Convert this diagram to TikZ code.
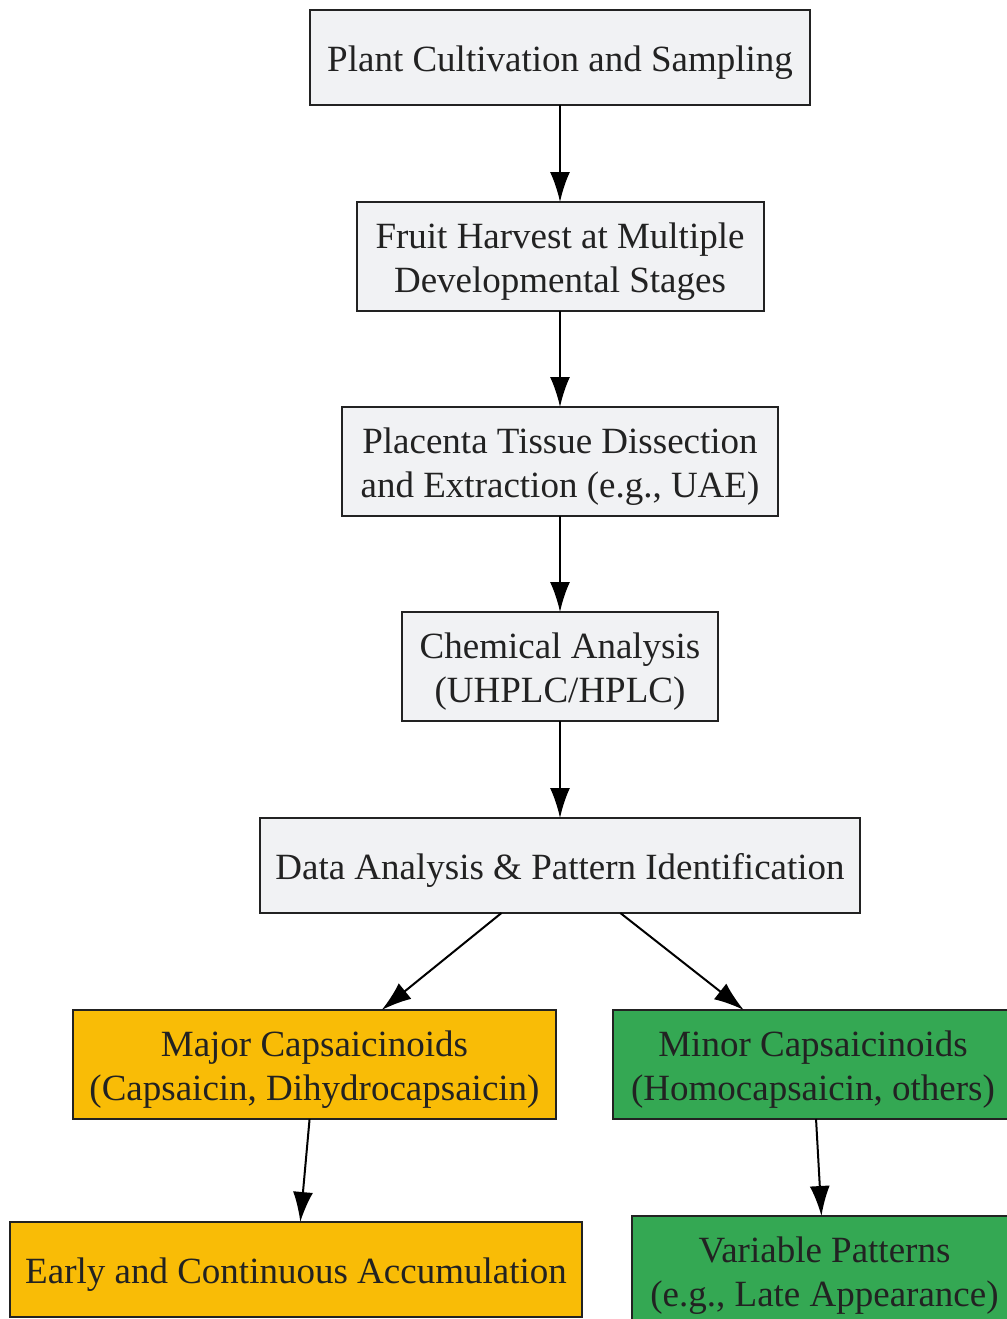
\documentclass[tikz,border=0pt]{standalone}
\usepackage{fontspec}
\setmainfont{Liberation Serif}
\usetikzlibrary{arrows.meta}
\definecolor{boxgray}{HTML}{F1F2F4}
\definecolor{boxgold}{HTML}{F9BC06}
\definecolor{boxgreen}{HTML}{34A853}
\definecolor{inkgray}{HTML}{222222}
% box text, set a little below the middle
\newcommand{\boxtext}[1]{\raisebox{-5.5pt}[\height][\depth]{\begin{tabular}{@{}c@{}}#1\end{tabular}}}

\begin{document}
\begin{tikzpicture}[x=1pt, y=-1pt,
    box/.style={rectangle, draw=inkgray, line width=2pt, text=inkgray, align=center,
        inner sep=0pt, outer sep=0pt, font=\fontsize{37}{44}\selectfont},
    grey/.style={box, fill=boxgray},
    gold/.style={box, fill=boxgold},
    green/.style={box, fill=boxgreen},
    edge/.style={line width=2pt, -{Latex[length=30pt, width=20pt]}}]
    \useasboundingbox (0,0) rectangle (1006,1319);

    % Draw nodes
    \node[grey, minimum width=500, minimum height=95] (plant) at (560, 57.5) {\boxtext{Plant Cultivation and Sampling}};
    \node[grey, minimum width=407, minimum height=109] (fruit) at (560, 256.5) {\boxtext{Fruit Harvest at Multiple\\Developmental Stages}};
    \node[grey, minimum width=436, minimum height=109] (placenta) at (560, 461.5) {\boxtext{Placenta Tissue Dissection\\and Extraction (e.g., UAE)}};
    \node[grey, minimum width=316, minimum height=109] (chem) at (560, 666.5) {\boxtext{Chemical Analysis\\(UHPLC/HPLC)}};
    \node[grey, minimum width=600, minimum height=95] (data) at (560, 865.5) {\boxtext{Data Analysis \& Pattern Identification}};
    \node[gold, minimum width=483, minimum height=109] (major) at (314.5, 1064.5) {\boxtext{Major Capsaicinoids\\(Capsaicin, Dihydrocapsaicin)}};
    \node[green, minimum width=400, minimum height=109] (minor) at (813, 1064.5) {\boxtext{Minor Capsaicinoids\\(Homocapsaicin, others)}};
    \node[gold, minimum width=572, minimum height=95] (early) at (296, 1269.5) {\boxtext{Early and Continuous Accumulation}};
    \node[green, minimum width=385, minimum height=109] (variable) at (824.5, 1270.5) {\boxtext{Variable Patterns\\(e.g., Late Appearance)}};

    % Draw edges
    \draw[edge] (plant) -- (fruit);
    \draw[edge] (fruit) -- (placenta);
    \draw[edge] (placenta) -- (chem);
    \draw[edge] (chem) -- (data);
    \draw[edge] (data) -- (major);
    \draw[edge] (data) -- (minor);
    \draw[edge] (major) -- (early);
    \draw[edge] (minor) -- (variable);
\end{tikzpicture}
\end{document}
